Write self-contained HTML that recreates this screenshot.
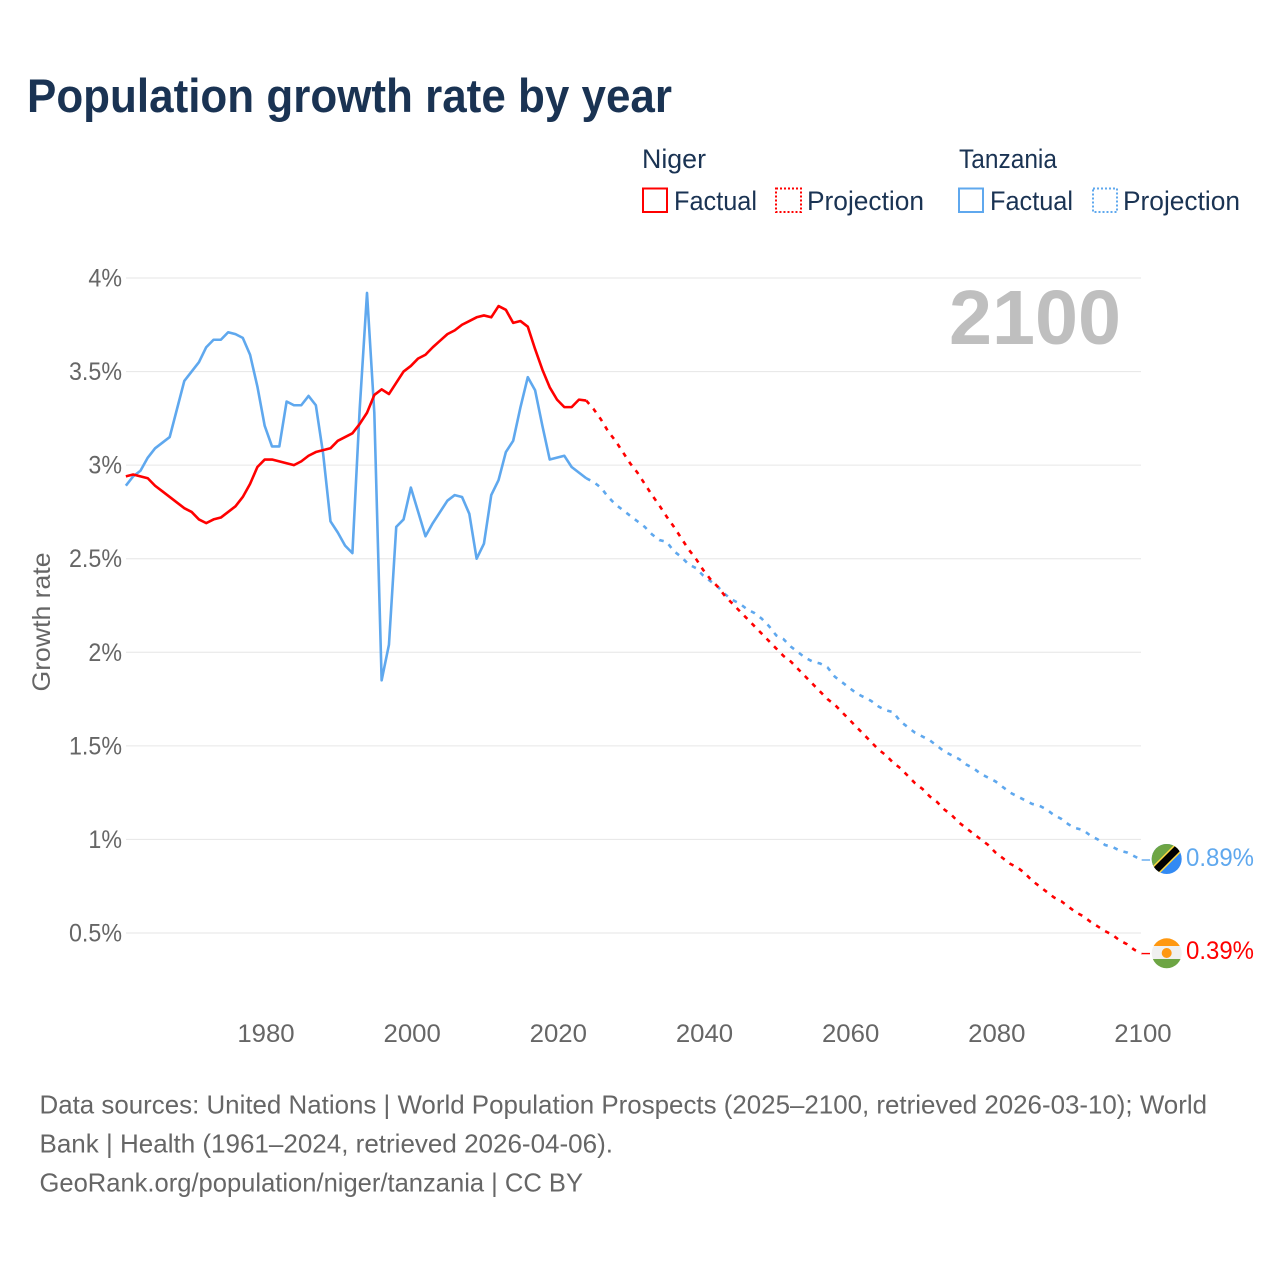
<!DOCTYPE html>
<html lang="en">
<head>
<meta charset="utf-8">
<title>Population growth rate by year</title>
<style>
html,body{margin:0;padding:0;background:#fff;width:1280px;height:1280px;overflow:hidden}
svg{display:block}
text{font-family:"Liberation Sans",sans-serif}
</style>
</head>
<body>
<svg id="chart" width="1280" height="1280" viewBox="0 0 1280 1280" xmlns="http://www.w3.org/2000/svg">
  <text x="27" y="112" font-size="47" font-weight="700" fill="#1a3353" textLength="645" lengthAdjust="spacingAndGlyphs">Population growth rate by year</text>

  <g fill="#1a3353" font-size="27">
    <text x="642" y="168" textLength="64" lengthAdjust="spacingAndGlyphs">Niger</text>
    <text x="959" y="168" textLength="98" lengthAdjust="spacingAndGlyphs">Tanzania</text>
    <rect x="643" y="188.5" width="24" height="23.5" fill="none" stroke="#ff0000" stroke-width="2"/>
    <text x="674" y="210" textLength="83" lengthAdjust="spacingAndGlyphs">Factual</text>
    <rect x="776" y="188.5" width="25" height="23.5" fill="none" stroke="#ff0000" stroke-width="2" stroke-dasharray="2,2"/>
    <text x="807" y="210" textLength="117" lengthAdjust="spacingAndGlyphs">Projection</text>
    <rect x="959" y="188.5" width="24" height="23.5" fill="none" stroke="#5fa8ee" stroke-width="2"/>
    <text x="990" y="210" textLength="83" lengthAdjust="spacingAndGlyphs">Factual</text>
    <rect x="1093" y="188.5" width="24" height="23.5" fill="none" stroke="#5fa8ee" stroke-width="2" stroke-dasharray="2,2"/>
    <text x="1123" y="210" textLength="117" lengthAdjust="spacingAndGlyphs">Projection</text>
  </g>

  <g id="grid"></g>
  <g id="yticks"></g>
  <g id="xticks"></g>

  <text transform="translate(50,622) rotate(-90)" text-anchor="middle" font-size="25" fill="#666666" textLength="139" lengthAdjust="spacingAndGlyphs">Growth rate</text>
  <text x="949" y="344" font-size="77" font-weight="700" fill="#bfbfbf" textLength="172" lengthAdjust="spacingAndGlyphs">2100</text>

  <g id="series"></g>

  <g>
    <clipPath id="clip-tz"><circle cx="1166.7" cy="859" r="15"/></clipPath>
    <g clip-path="url(#clip-tz)">
      <rect x="1150" y="842" width="34" height="34" fill="#338af3"/>
      <polygon points="1150,842 1184,842 1150,876" fill="#6da544"/>
      <line x1="1152" y1="874" x2="1182" y2="844" stroke="#ffda44" stroke-width="10"/>
      <line x1="1152" y1="874" x2="1182" y2="844" stroke="#000000" stroke-width="7"/>
    </g>
  </g>
  <g>
    <clipPath id="clip-ne"><circle cx="1166.7" cy="953.3" r="15"/></clipPath>
    <g clip-path="url(#clip-ne)">
      <rect x="1150" y="936" width="34" height="10" fill="#ff9811"/>
      <rect x="1150" y="946" width="34" height="13" fill="#f0f0f0"/>
      <rect x="1150" y="959" width="34" height="12" fill="#6da544"/>
      <circle cx="1166.7" cy="953" r="5" fill="#ff9811"/>
    </g>
  </g>
  <text x="1186" y="866" font-size="25" fill="#5fa8ee" textLength="68" lengthAdjust="spacingAndGlyphs">0.89%</text>
  <text x="1186" y="959" font-size="25" fill="#ff0000" textLength="68" lengthAdjust="spacingAndGlyphs">0.39%</text>

  <g font-size="26" fill="#666666">
    <text x="39.5" y="1113.5" textLength="1167.5" lengthAdjust="spacingAndGlyphs">Data sources: United Nations | World Population Prospects (2025–2100, retrieved 2026-03-10); World</text>
    <text x="39.5" y="1152.5" textLength="573.5" lengthAdjust="spacingAndGlyphs">Bank | Health (1961–2024, retrieved 2026-04-06).</text>
    <text x="39.5" y="1191.5" textLength="543.5" lengthAdjust="spacingAndGlyphs">GeoRank.org/population/niger/tanzania | CC BY</text>
  </g>
</svg>
<script>
const yTickValues = [0.5, 1, 1.5, 2, 2.5, 3, 3.5, 4];
const xTickYears = [1980, 2000, 2020, 2040, 2060, 2080, 2100];
const factualStartYear = 1961;
const projectionStartYear = 2025;
const nigerFactual = [
  2.94,2.95,2.94,2.93,2.89,2.86,2.83,2.80,2.77,2.75,
  2.71,2.69,2.71,2.72,2.75,2.78,2.83,2.90,2.99,3.03,
  3.03,3.02,3.01,3.00,3.02,3.05,3.07,3.08,3.09,3.13,
  3.15,3.17,3.22,3.28,3.375,3.405,3.38,3.44,3.50,3.53,
  3.57,3.59,3.63,3.665,3.70,3.72,3.75,3.77,3.79,3.80,
  3.79,3.85,3.83,3.76,3.77,3.74,3.62,3.51,3.416,3.35,
  3.31,3.31,3.35,3.345
];
const tanzaniaFactual = [
  2.89,2.94,2.97,3.04,3.09,3.12,3.15,3.30,3.45,3.50,
  3.55,3.63,3.67,3.67,3.71,3.70,3.68,3.59,3.42,3.21,
  3.10,3.10,3.34,3.32,3.32,3.37,3.32,3.06,2.70,2.64,
  2.57,2.53,3.30,3.92,3.28,1.85,2.04,2.67,2.71,2.88,
  2.75,2.62,2.69,2.75,2.81,2.84,2.83,2.74,2.50,2.58,
  2.84,2.92,3.07,3.13,3.31,3.47,3.40,3.21,3.03,3.04,
  3.05,2.99,2.96,2.93
];
const nigerProjection = [
  3.30,3.245,3.18,3.13,3.07,3.01,
  2.96,2.90,2.84,2.785,2.725,2.67,2.61,2.55,2.50,2.44,
  2.39,2.35,2.30,2.26,2.22,2.18,2.14,2.10,2.06,2.02,
  1.98,1.95,1.91,1.87,1.83,1.79,1.75,1.72,1.68,1.64,
  1.60,1.56,1.52,1.48,1.45,1.41,1.38,1.34,1.30,1.27,
  1.23,1.20,1.16,1.13,1.09,1.06,1.03,1.00,0.97,0.93,
  0.90,0.87,0.85,0.82,0.78,0.75,0.72,0.69,0.67,0.64,
  0.61,0.59,0.56,0.535,0.51,0.49,0.46,0.44,0.41,0.39
];
const tanzaniaProjection = [
  2.91,2.88,2.83,2.79,2.76,2.73,
  2.70,2.67,2.63,2.60,2.59,2.54,2.51,2.47,2.45,2.41,
  2.38,2.35,2.31,2.28,2.26,2.23,2.21,2.18,2.14,2.09,
  2.07,2.03,2.00,1.97,1.95,1.94,1.92,1.87,1.84,1.81,
  1.78,1.76,1.74,1.71,1.69,1.68,1.63,1.60,1.57,1.55,
  1.53,1.50,1.47,1.45,1.43,1.40,1.38,1.35,1.33,1.31,
  1.28,1.25,1.23,1.21,1.19,1.18,1.16,1.13,1.11,1.08,
  1.06,1.05,1.02,1.00,0.97,0.96,0.94,0.93,0.91,0.89
];

const NS = 'http://www.w3.org/2000/svg';
function tickX(year) { return 266 + (year - 1980) * 7.308; }
function xScale(year) { return tickX(year) - 1.3; }
function yScale(value) { return 278 + (4 - value) * 187.14; }
function shape(tag, parent) {
  const el = document.createElementNS(NS, tag);
  parent.appendChild(el);
  return el;
}
function pathFrom(startYear, values) {
  return values.map(function (v, i) {
    return (i ? 'L' : 'M') + xScale(startYear + i).toFixed(2) + ' ' + yScale(v).toFixed(2);
  }).join(' ');
}
const gridGroup = document.getElementById('grid');
const yTickGroup = document.getElementById('yticks');
const xTickGroup = document.getElementById('xticks');
const seriesGroup = document.getElementById('series');

yTickValues.forEach(function (v) {
  const line = shape('line', gridGroup);
  
  
  line.setAttribute('x1', 126);
  line.setAttribute('x2', 1141);
  line.setAttribute('y1', yScale(v));
  line.setAttribute('y2', yScale(v));
  line.setAttribute('stroke', '#e6e6e6');
  line.setAttribute('stroke-width', 1);
  const label = shape('text', yTickGroup);
  
  
  label.setAttribute('x', 122);
  label.setAttribute('y', yScale(v) + 8.5);
  label.setAttribute('text-anchor', 'end');
  label.setAttribute('font-size', 25);
  label.setAttribute('fill', '#666666');
  label.textContent = v + '%';
  label.setAttribute('textLength', (label.getComputedTextLength() * 0.93).toFixed(1));
  label.setAttribute('lengthAdjust', 'spacingAndGlyphs');
});

xTickYears.forEach(function (year) {
  const label = shape('text', xTickGroup);
  
  
  label.setAttribute('x', tickX(year));
  label.setAttribute('y', 1042);
  label.setAttribute('text-anchor', 'middle');
  label.setAttribute('font-size', 25);
  label.setAttribute('fill', '#666666');
  label.textContent = String(year);
  label.setAttribute('textLength', (label.getComputedTextLength() * 1.03).toFixed(1));
  label.setAttribute('lengthAdjust', 'spacingAndGlyphs');
});

function drawCountry(name, color, factual, projection) {
  const solid = shape('path', seriesGroup);
  
  
  solid.setAttribute('d', pathFrom(factualStartYear, factual));
  solid.setAttribute('fill', 'none');
  solid.setAttribute('stroke', color);
  solid.setAttribute('stroke-width', 2.6);
  solid.setAttribute('stroke-linejoin', 'round');

  const dashed = shape('path', seriesGroup);
  
  
  dashed.setAttribute('d', pathFrom(projectionStartYear - 1, [factual[factual.length - 1]].concat(projection)));
  dashed.setAttribute('fill', 'none');
  dashed.setAttribute('stroke', color);
  dashed.setAttribute('stroke-width', 2.6);
  dashed.setAttribute('stroke-dasharray', '4.5,6.2');

  const last = projection[projection.length - 1];
  const lastYear = projectionStartYear + projection.length - 1;
  const leader = shape('line', seriesGroup);
  
  
  leader.setAttribute('x1', xScale(lastYear));
  leader.setAttribute('x2', 1150);
  leader.setAttribute('y1', yScale(last));
  leader.setAttribute('y2', yScale(last));
  leader.setAttribute('stroke', color);
  leader.setAttribute('stroke-width', 1.4);
}
drawCountry('tanzania', '#5fa8ee', tanzaniaFactual, tanzaniaProjection);
drawCountry('niger', '#ff0000', nigerFactual, nigerProjection);
</script>
</body>
</html>
